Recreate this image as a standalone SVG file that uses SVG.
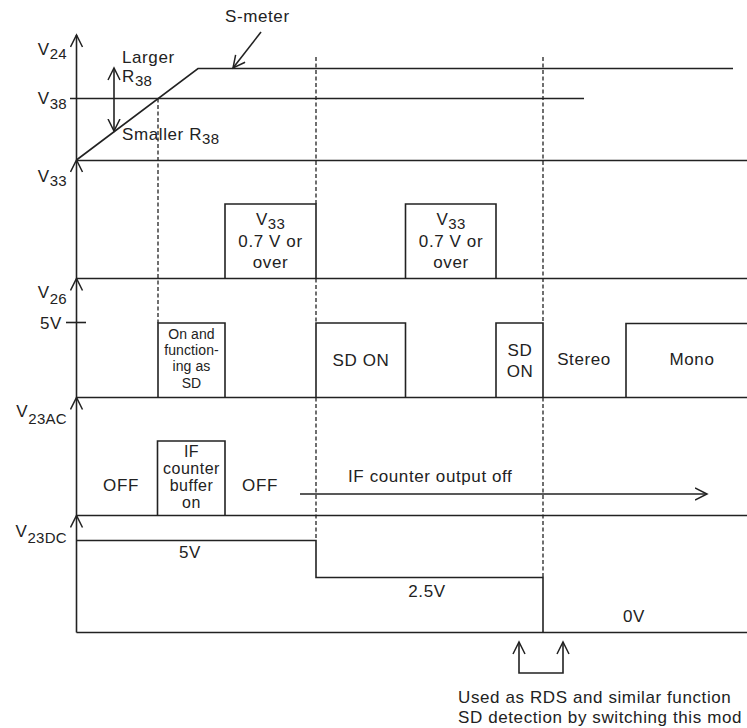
<svg xmlns="http://www.w3.org/2000/svg" width="747" height="728" viewBox="0 0 747 728">
<style>
.ln{fill:none;stroke:#222;stroke-width:1.6}
.dash{fill:none;stroke:#222;stroke-width:1.3;stroke-dasharray:4 2.5}
.t{font-family:"Liberation Sans",Arial,Helvetica,sans-serif;font-size:17px;letter-spacing:0.6px;fill:#222}
.m{text-anchor:middle}
.e{text-anchor:end}
.sm{font-size:14px;letter-spacing:0.1px}
.ib{font-size:16px;letter-spacing:0.5px}
.sub{font-size:15px;letter-spacing:0.3px}
</style>
<defs>
<marker id="arr" markerUnits="userSpaceOnUse" markerWidth="16" markerHeight="16" refX="12.5" refY="7" orient="auto-start-reverse">
<path d="M0.5,1 L12.5,7 L0.5,13" fill="none" stroke="#222" stroke-width="1.5"/>
</marker>
</defs>
<rect width="747" height="728" fill="#fff"/>
<g id="connectors">
<!-- axis segments -->
<path class="ln" d="M76.5,160 V35" marker-end="url(#arr)"/>
<path class="ln" d="M76.5,278.5 V160" marker-end="url(#arr)"/>
<path class="ln" d="M76.5,397.5 V278.5" marker-end="url(#arr)"/>
<path class="ln" d="M76.5,515.5 V397.5" marker-end="url(#arr)"/>
<path class="ln" d="M76.5,632.5 V515.5" marker-end="url(#arr)"/>
<!-- S-meter curve -->
<path class="ln" d="M76.5,160 L198,68.5 H733"/>
<!-- V38 level -->
<path class="ln" d="M70,98.5 H584"/>
<!-- baselines -->
<path class="ln" d="M76.5,160.5 H747"/>
<path class="ln" d="M76.5,278.5 H747"/>
<path class="ln" d="M76.5,397.5 H747"/>
<path class="ln" d="M76.5,515.5 H747"/>
<!-- 5V tick -->
<path class="ln" d="M66,322.5 H86"/>
<!-- V23DC staircase -->
<path class="ln" d="M76.5,540.5 H316 V577.5 H543 V632.5"/>
<path class="ln" d="M76.5,632.5 H747"/>
<!-- dashed verticals -->
<path class="dash" d="M158,98.5 V323"/>
<path class="dash" d="M316,57 V204 M316,278.5 V323 M316,397.5 V540"/>
<path class="dash" d="M543,57 V323 M543,397.5 V577.5"/>
<!-- Larger/Smaller arrow -->
<path class="ln" d="M114,68 V131" marker-start="url(#arr)" marker-end="url(#arr)"/>
<!-- S-meter pointer -->
<path class="ln" d="M261,32 L233,68" marker-end="url(#arr)"/>
<!-- IF counter output off arrow -->
<path class="ln" d="M300,494 H707" marker-end="url(#arr)"/>
<!-- bottom bracket arrows -->
<path class="ln" d="M519,642 V673 H563 V642" marker-start="url(#arr)" marker-end="url(#arr)"/>
</g>
<g id="axis-labels">
<text class="t e" x="67" y="55">V<tspan class="sub" dy="4">24</tspan></text>
<text class="t e" x="67" y="104">V<tspan class="sub" dy="5">38</tspan></text>
<text class="t e" x="67" y="182">V<tspan class="sub" dy="4">33</tspan></text>
<text class="t e" x="67" y="298">V<tspan class="sub" dy="6">26</tspan></text>
<text class="t e" x="62" y="329">5V</text>
<text class="t e" x="67" y="417">V<tspan class="sub" dy="7">23AC</tspan></text>
<text class="t e" x="67" y="537">V<tspan class="sub" dy="6">23DC</tspan></text>
</g>
<g id="s-meter-labels">
<text class="t" x="225" y="22">S-meter</text>
<text class="t" x="122" y="63">Larger</text>
<text class="t" x="122" y="82">R<tspan class="sub" dy="4">38</tspan></text>
<text class="t" x="122" y="140">Smaller R<tspan class="sub" dy="4">38</tspan></text>
</g>
<g id="v33-box-1">
<path class="ln" d="M225,278.5 V204 H316 V278.5"/>
<text class="t m" x="270.5" y="225">V<tspan class="sub" dy="4">33</tspan></text>
<text class="t m" x="270.5" y="247">0.7 V or</text>
<text class="t m" x="270.5" y="268">over</text>
</g>
<g id="v33-box-2">
<path class="ln" d="M405.5,278.5 V204 H496 V278.5"/>
<text class="t m" x="451" y="225">V<tspan class="sub" dy="4">33</tspan></text>
<text class="t m" x="451" y="247">0.7 V or</text>
<text class="t m" x="451" y="268">over</text>
</g>
<g id="v26-sd-function">
<path class="ln" d="M158,397.5 V323 H225 V397.5"/>
<text class="t m sm" x="191.5" y="339">On and</text>
<text class="t m sm" x="191.5" y="355">function-</text>
<text class="t m sm" x="191.5" y="371">ing as</text>
<text class="t m sm" x="191.5" y="388">SD</text>
</g>
<g id="v26-sd-on-1">
<path class="ln" d="M316,397.5 V323 H405.5 V397.5"/>
<text class="t m" x="361" y="366">SD ON</text>
</g>
<g id="v26-sd-on-2">
<path class="ln" d="M496,397.5 V323 H543 V397.5"/>
<text class="t m" x="520" y="356">SD</text>
<text class="t m" x="520" y="377">ON</text>
</g>
<g id="v26-stereo">
<text class="t m" x="584" y="365">Stereo</text>
</g>
<g id="v26-mono">
<path class="ln" d="M626,397.5 V323.5 H747"/>
<text class="t m" x="692" y="365">Mono</text>
</g>
<g id="v23ac-off-1">
<text class="t m" x="121" y="491">OFF</text>
</g>
<g id="v23ac-if-buffer">
<path class="ln" d="M157.5,515.5 V441 H225 V515.5"/>
<text class="t m ib" x="191.5" y="457">IF</text>
<text class="t m ib" x="191.5" y="474">counter</text>
<text class="t m ib" x="191.5" y="491">buffer</text>
<text class="t m ib" x="191.5" y="508">on</text>
</g>
<g id="v23ac-off-2">
<text class="t m" x="260" y="491">OFF</text>
</g>
<g id="v23ac-if-off">
<text class="t" x="348" y="482">IF counter output off</text>
</g>
<g id="v23dc-levels">
<text class="t m" x="190" y="558">5V</text>
<text class="t m" x="427" y="597">2.5V</text>
<text class="t m" x="634" y="622">0V</text>
</g>
<g id="note">
<text class="t" x="458" y="703">Used as RDS and similar function</text>
<text class="t" x="458" y="723">SD detection by switching this mod</text>
</g>
</svg>
